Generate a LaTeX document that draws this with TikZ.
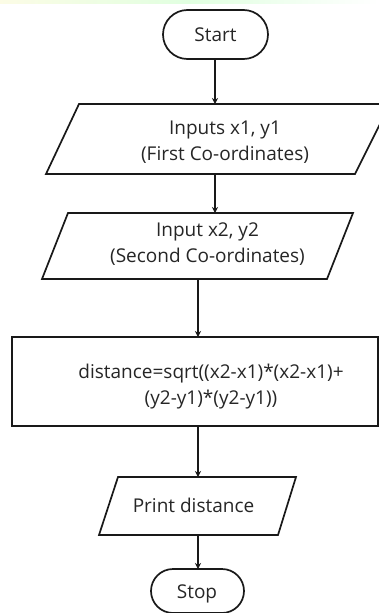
\documentclass[tikz,border=0pt]{standalone}
\usepackage{fontspec}
\setmainfont{Open Sans}
\usetikzlibrary{arrows.meta}
\begin{document}
\begin{tikzpicture}[x=1pt,y=-1pt,
  outl/.style={draw=black!90, line width=1.7pt, line join=miter},
  conn/.style={draw=black!90, line width=1.3pt, -{Stealth[length=6pt,width=6pt]}},
  txt/.style={font=\fontsize{19}{26}\selectfont, text=black!85, align=center, inner sep=0pt}]
\useasboundingbox (0,0) rectangle (379,613);
\clip (0,0) rectangle (379,613);
\fill[white] (0,0) rectangle (379,613);
% faint top band
\shade[left color=black!12!yellow!10, right color=white, middle color=green!12] (0,0) rectangle (379,3.5);
% Start terminal
\draw[outl] (187.5,10) -- (243.5,10) arc[start angle=-90,end angle=90,radius=24.5] -- (187.5,59) arc[start angle=90,end angle=270,radius=24.5] -- cycle;
\node[txt] (start) at (215.5,35) {Start};
\coordinate (startb) at (215,59);
% Input 1
\draw[outl] (79,104) -- (390,104) -- (355,174) -- (46,174) -- cycle;
\coordinate (in1t) at (215,104);
\coordinate (in1b) at (215,174);
\node[txt] (in1) at (225,142) {Inputs x1, y1\\(First Co-ordinates)};
% Input 2
\draw[outl] (68,213) -- (353,213) -- (327,279) -- (42,279) -- cycle;
\coordinate (in2t) at (215,213);
\coordinate (in2b) at (198,279);
\node[txt] (in2) at (207.5,244.5) {Input x2, y2\\(Second Co-ordinates)};
% Process
\draw[outl] (12,337) rectangle (378,426);
\coordinate (proct) at (198,337);
\coordinate (procb) at (198,426);
\node[txt] (proc) at (211,387) {distance=sqrt((x2-x1)*(x2-x1)+\\(y2-y1)*(y2-y1))};
% Print
\draw[outl] (118,477) -- (296,477) -- (278,535) -- (99,535) -- cycle;
\coordinate (prt) at (198,477);
\coordinate (prb) at (198,535);
\node[txt] (pr) at (193.5,505) {Print distance};
% Stop terminal
\draw[outl] (173,569) -- (222,569) arc[start angle=-90,end angle=90,radius=22] -- (173,613) arc[start angle=90,end angle=270,radius=22] -- cycle;
\coordinate (stopt) at (198,569);
\node[txt] (stop) at (197,594) {Stop};
% connectors
\draw[conn] (startb) -- (in1t);
\draw[conn] (in1b) -- (in2t);
\draw[conn] (in2b) -- (proct);
\draw[conn] (procb) -- (prt);
\draw[conn] (prb) -- (stopt);
\end{tikzpicture}
\end{document}
